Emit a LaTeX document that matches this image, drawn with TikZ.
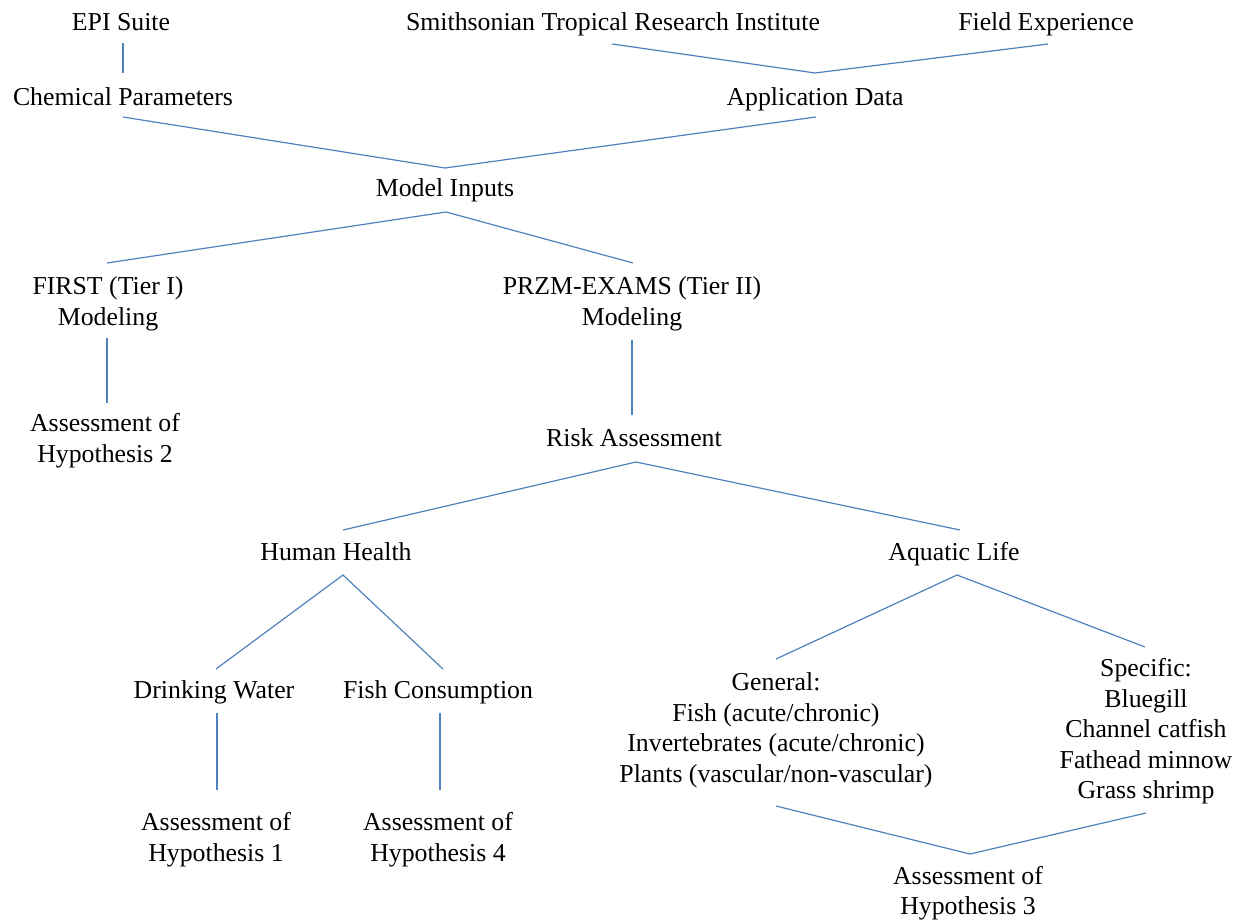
\documentclass[tikz,border=0pt]{standalone}
\usepackage{fontspec}
\setmainfont{Liberation Serif}
\usepackage{xcolor}
\definecolor{linjeblaa}{HTML}{4F81BD}

\begin{document}
\begin{tikzpicture}[x=1pt, y=-1pt,
    lbl/.style={inner sep=0pt, align=center, anchor=north,
      font=\fontsize{25.8}{30.5}\selectfont, execute at begin node=\strut},
    conn/.style={linjeblaa, line width=1.2pt}]
  \useasboundingbox (0,0) rectangle (1243,920);

  % tekster
  \node[lbl] (epi)   at (121,8.6)  {EPI Suite};
  \node[lbl] (stri)  at (613,8.6)  {Smithsonian Tropical Research Institute};
  \node[lbl] (field) at (1046,8.6) {Field Experience};
  \node[lbl] (chem)  at (123,83.6) {Chemical Parameters};
  \node[lbl] (appl)  at (815,83.6) {Application Data};
  \node[lbl] (inputs) at (445,174.6) {Model Inputs};
  \node[lbl] (first) at (108,276.6) {FIRST (Tier I)\\Modeling};
  \node[lbl] (przm)  at (632,276.6) {PRZM-EXAMS (Tier II)\\Modeling};
  \node[lbl] (hyp2)  at (105,413.6) {Assessment of\\Hypothesis 2};
  \node[lbl] (risk)  at (634,424.6) {Risk Assessment};
  \node[lbl] (human) at (336,538.6) {Human Health};
  \node[lbl] (aquatic) at (954,538.6) {Aquatic Life};
  \node[lbl] (drink) at (214,676.6) {Drinking Water};
  \node[lbl] (fishc) at (438,676.6) {Fish Consumption};
  \node[lbl] (general) at (776,672.6) {General:\\Fish (acute/chronic)\\Invertebrates (acute/chronic)\\Plants (vascular/non-vascular)};
  \node[lbl] (specific) at (1146,658.6) {Specific:\\Bluegill\\Channel catfish\\Fathead minnow\\Grass shrimp};
  \node[lbl] (hyp1)  at (216,812.6) {Assessment of\\Hypothesis 1};
  \node[lbl] (hyp4)  at (438,812.6) {Assessment of\\Hypothesis 4};
  \node[lbl] (hyp3)  at (968,866.0) {Assessment of\\Hypothesis 3};

  % endepunkter
  \coordinate (epi-s)     at (123,43);
  \coordinate (chem-n)    at (123,73);
  \coordinate (stri-s)    at (612,44);
  \coordinate (appl-n)    at (815,73);
  \coordinate (field-s)   at (1048,44);
  \coordinate (chem-s)    at (123,117);
  \coordinate (inputs-n)  at (445,168);
  \coordinate (appl-s)    at (816,117);
  \coordinate (inputs-s)  at (446,212);
  \coordinate (first-n)   at (107,263);
  \coordinate (przm-n)    at (633,263);
  \coordinate (first-s)   at (107,338);
  \coordinate (hyp2-n)    at (107,403);
  \coordinate (przm-s)    at (632,340);
  \coordinate (risk-n)    at (632,415);
  \coordinate (risk-s)    at (636,462);
  \coordinate (human-n)   at (343,530);
  \coordinate (aquatic-n) at (960,530);
  \coordinate (human-s)   at (343,575);
  \coordinate (drink-n)   at (216,669);
  \coordinate (fishc-n)   at (443,669);
  \coordinate (aquatic-s) at (957,575);
  \coordinate (general-n) at (776,659);
  \coordinate (specific-n) at (1145,647);
  \coordinate (drink-s)   at (217,713);
  \coordinate (hyp1-n)    at (217,790);
  \coordinate (fishc-s)   at (440,713);
  \coordinate (hyp4-n)    at (440,790);
  \coordinate (general-s) at (776,806);
  \coordinate (hyp3-n)    at (970,854);
  \coordinate (specific-s) at (1146,813);

  % loddrette linjer
  \foreach \a/\b in {epi-s/chem-n, first-s/hyp2-n, przm-s/risk-n,
                     drink-s/hyp1-n, fishc-s/hyp4-n}
    \draw[conn] (\a) -- (\b);

  % knekte linjer
  \draw[conn] (stri-s) -- (appl-n) -- (field-s);
  \draw[conn] (chem-s) -- (inputs-n) -- (appl-s);
  \draw[conn] (first-n) -- (inputs-s) -- (przm-n);
  \draw[conn] (human-n) -- (risk-s) -- (aquatic-n);
  \draw[conn] (drink-n) -- (human-s) -- (fishc-n);
  \draw[conn] (general-n) -- (aquatic-s) -- (specific-n);
  \draw[conn] (general-s) -- (hyp3-n) -- (specific-s);
\end{tikzpicture}
\end{document}
